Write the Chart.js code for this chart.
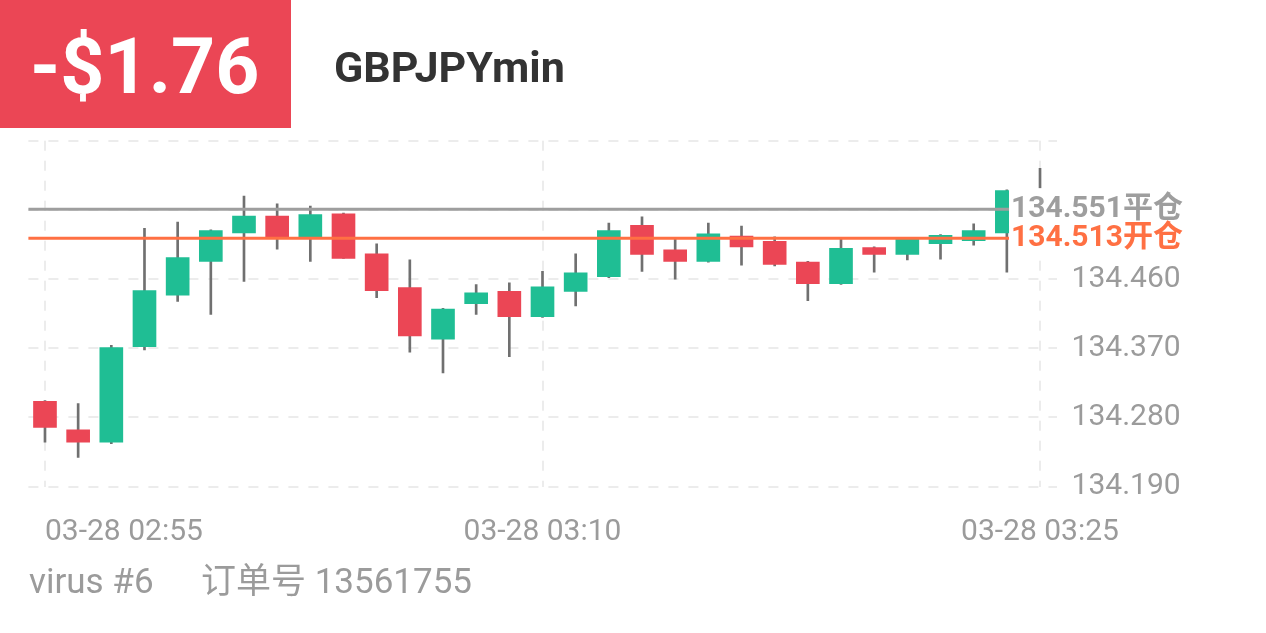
<!DOCTYPE html>
<html>
<head>
<meta charset="utf-8">
<script src="https://cdn.jsdelivr.net/npm/chart.js@4"></script>
<style>
html,body{margin:0;padding:0;background:#fff;}
#wrap{position:relative;width:1266px;height:633px;overflow:hidden;font-family:Roboto,"Noto Sans CJK SC",sans-serif;}
#c{position:absolute;left:0;top:0;}
#pnlBox{position:absolute;left:0;top:0;width:291px;height:128px;background:#eb4655;}
.t{position:absolute;line-height:0;white-space:nowrap;}
</style>
</head>
<body>
<div id="wrap">
  <div id="pnlBox"></div>
  <canvas id="c" width="1266" height="633"></canvas>
  <div class="t" id="pnl" style="left:30px;top:67px;font-size:77px;font-weight:700;color:#fff;"></div>
  <div class="t" id="sym" style="left:334px;top:67px;font-size:43px;font-weight:700;color:#333;"></div>
  <div class="t" id="acct" style="left:29px;top:582px;font-size:35px;color:#9b9b9b;"></div>
  <div class="t" id="order" style="left:201px;top:582px;font-size:35px;color:#9b9b9b;"></div>
</div>
<script>
// ---- header / footer text ----
const pnlText = '-$1.76';
const symbolText = 'GBPJPYmin';
const accountText = 'virus #6';
const orderText = '订单号 13561755';

// ---- candle data (1-minute candles, 03-28 02:55 .. 03:25) ----
const times = ['02:55','02:56','02:57','02:58','02:59','03:00','03:01','03:02','03:03','03:04',
               '03:05','03:06','03:07','03:08','03:09','03:10','03:11','03:12','03:13','03:14',
               '03:15','03:16','03:17','03:18','03:19','03:20','03:21','03:22','03:23','03:24','03:25'];
const opens  = [134.301,134.264,134.248,134.372,134.439,134.483,134.520,134.542,134.515,134.545,
                134.493,134.449,134.382,134.428,134.444,134.411,134.444,134.463,134.530,134.498,
                134.483,134.516,134.509,134.482,134.454,134.501,134.492,134.506,134.510,134.520,null];
const highs  = [134.302,134.298,134.374,134.526,134.534,134.524,134.568,134.558,134.555,134.546,
                134.506,134.485,134.422,134.453,134.455,134.470,134.493,134.533,134.541,134.513,
                134.533,134.529,134.515,134.483,134.512,134.502,134.513,134.518,134.532,134.576,134.604];
const lows   = [134.248,134.228,134.246,134.368,134.431,134.414,134.457,134.499,134.483,134.487,
                134.436,134.365,134.338,134.414,134.359,134.410,134.425,134.462,134.470,134.460,
                134.482,134.478,134.477,134.432,134.453,134.469,134.485,134.486,134.504,134.469,134.577];
const closes = [134.267,134.248,134.371,134.445,134.488,134.523,134.542,134.515,134.544,134.487,
                134.445,134.386,134.421,134.442,134.411,134.450,134.468,134.523,134.492,134.483,
                134.519,134.502,134.479,134.454,134.500,134.492,134.512,134.517,134.523,134.575,null];

// ---- axes ----
const xTickIndex  = [0, 15, 30];
const xTickLabels = ['03-28 02:55', '03-28 03:10', '03-28 03:25'];
const yTickValues = [134.190, 134.280, 134.370, 134.460, 134.550, 134.640];
const yTickLabels = ['134.190', '134.280', '134.370', '134.460', '', ''];

// ---- price lines ----
const priceLineValues = [134.551, 134.513];
const priceLineTags   = ['平仓', '开仓'];
const priceLineColors = ['#9e9e9e', '#ff7043'];

document.getElementById('pnl').textContent = pnlText;
document.getElementById('sym').textContent = symbolText;
document.getElementById('acct').textContent = accountText;
document.getElementById('order').textContent = orderText;

const UP = '#1fbe94', DOWN = '#eb4655', WICK = '#707070', GRID = '#ececec', TICK = '#9b9b9b';
const LABEL_RIGHT = 1183;

const bodyData = [], bodyColors = [], wickData = [];
times.forEach((t, i) => {
  wickData.push({x: i, y: [lows[i], highs[i]]});
  if (opens[i] != null && closes[i] != null) {
    bodyData.push({x: i, y: [opens[i], closes[i]]});
    bodyColors.push(closes[i] >= opens[i] ? UP : DOWN);
  }
});

const priceLinePlugin = {
  id: 'priceLines',
  afterDatasetsDraw(chart) {
    const {ctx, chartArea, scales: {y}} = chart;
    ctx.save();
    ctx.font = '700 30px Roboto, "Noto Sans CJK SC", sans-serif';
    ctx.textAlign = 'left';
    ctx.textBaseline = 'middle';
    priceLineValues.forEach((v, i) => {
      const py = y.getPixelForValue(v);
      const label = v.toFixed(3) + priceLineTags[i];
      const w = ctx.measureText(label).width;
      const tx = LABEL_RIGHT - w;
      ctx.strokeStyle = priceLineColors[i];
      ctx.lineWidth = 3;
      ctx.beginPath();
      ctx.moveTo(chartArea.left, py);
      ctx.lineTo(tx - 2, py);
      ctx.stroke();
      ctx.fillStyle = '#ffffff';
      ctx.fillRect(tx - 2, py - 21, w + 4, 38);
    });
    priceLineValues.forEach((v, i) => {
      const py = y.getPixelForValue(v);
      const label = v.toFixed(3) + priceLineTags[i];
      const w = ctx.measureText(label).width;
      ctx.fillStyle = priceLineColors[i];
      ctx.fillText(label, LABEL_RIGHT - w, py);
    });
    ctx.restore();
  }
};

const tickFont = {family: 'Roboto, "Noto Sans CJK SC", sans-serif', size: 30};

new Chart(document.getElementById('c'), {
  type: 'bar',
  data: {
    datasets: [
      {label: 'body', data: bodyData, backgroundColor: bodyColors, barThickness: 23,
       grouped: false, order: 0, borderWidth: 0},
      {label: 'wick', data: wickData, backgroundColor: WICK, barThickness: 2,
       grouped: false, order: 1, borderWidth: 0}
    ]
  },
  options: {
    responsive: false,
    animation: false,
    events: [],
    layout: {padding: {left: 28.4, top: 140.7, right: 79.4, bottom: 86.3}},
    plugins: {legend: {display: false}, tooltip: {enabled: false}},
    scales: {
      x: {
        type: 'linear', position: 'bottom', min: -0.5, max: 30.5, bounds: 'data', offset: false, weight: 0,
        afterBuildTicks: a => { a.ticks = xTickIndex.map(v => ({value: v})); },
        afterFit: a => { a.height = 60; },
        grid: {color: GRID, lineWidth: 2, drawTicks: false, offset: false},
        border: {display: false, dash: [10, 10]},
        ticks: {callback: (v, i) => (i === 0 ? '' : xTickLabels[i]), color: TICK, font: tickFont,
                padding: 28, maxRotation: 0, minRotation: 0, autoSkip: false}
      },
      x2: {
        type: 'linear', position: 'bottom', min: -0.5, max: 30.5, bounds: 'data', offset: false, weight: -1,
        afterBuildTicks: a => { a.ticks = [{value: xTickIndex[0]}]; },
        afterFit: a => { a.height = 0; },
        grid: {display: false, drawTicks: false, offset: false},
        border: {display: false},
        ticks: {callback: () => xTickLabels[0], align: 'start', mirror: true, color: TICK, font: tickFont,
                padding: -64, maxRotation: 0, minRotation: 0, autoSkip: false}
      },
      y: {
        type: 'linear', position: 'right', min: 134.190, max: 134.640, bounds: 'data',
        afterBuildTicks: a => { a.ticks = yTickValues.map(v => ({value: v})); },
        afterFit: a => { a.width = 130; },
        grid: {color: GRID, lineWidth: 2, drawTicks: false},
        border: {display: false, dash: [10, 10]},
        ticks: {callback: (v, i) => yTickLabels[i], color: TICK,
                font: {family: 'Roboto, sans-serif', size: 30}, padding: 15, autoSkip: false}
      }
    }
  },
  plugins: [priceLinePlugin]
});
</script>
</body>
</html>
